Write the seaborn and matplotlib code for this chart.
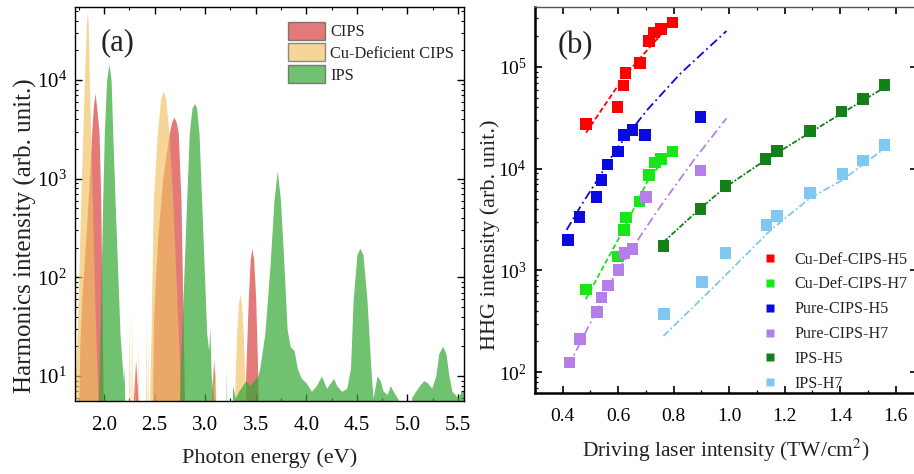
import numpy as np
import pandas as pd
import matplotlib
matplotlib.use("Agg")
import matplotlib.pyplot as plt
import seaborn as sns
from matplotlib.ticker import LogLocator, MultipleLocator, NullFormatter, FormatStrFormatter
from matplotlib.patches import Patch

# ---------------- Panel (a) data: spectra outlines (photon energy eV, intensity) ----------------
cips_spec = [(1.70, 1), (1.74, 1), (1.76, 20), (1.78, 60), (1.82, 250), (1.85, 800), (1.878, 2900),
             (1.895, 5500), (1.911, 7300), (1.93, 5000), (1.951, 2900), (1.968, 600), (1.983, 27),
             (1.995, 3), (2.0, 1),
             (2.27, 1), (2.29, 6), (2.313, 14.5), (2.335, 6), (2.36, 1),
             (2.47, 1), (2.49, 40), (2.53, 250), (2.58, 1000), (2.645, 2900), (2.67, 3800), (2.692, 4200),
             (2.715, 3700), (2.734, 2900), (2.761, 600), (2.784, 27), (2.80, 3), (2.81, 1),
             (3.05, 1), (3.07, 8), (3.085, 15), (3.10, 7), (3.12, 1),
             (3.39, 1), (3.40, 10), (3.426, 59), (3.445, 150), (3.462, 197), (3.48, 150), (3.50, 59),
             (3.52, 10), (3.53, 1), (5.60, 1)]

cudef_spec = [(1.70, 5), (1.736, 27), (1.77, 600), (1.79, 2900), (1.81, 13500), (1.825, 35000),
              (1.835, 50000), (1.845, 35000), (1.852, 13500), (1.868, 2900), (1.885, 600), (1.91, 50),
              (1.935, 8), (1.95, 1),
              (2.238, 1), (2.25, 40), (2.26, 1), (2.262, 1), (2.272, 47), (2.282, 1), (2.296, 1),
              (2.305, 15), (2.314, 1), (2.329, 1), (2.338, 27), (2.348, 1), (2.408, 1), (2.418, 47),
              (2.425, 1), (2.426, 1), (2.432, 35), (2.438, 1),
              (2.44, 1), (2.455, 10), (2.465, 27), (2.487, 600), (2.527, 2900), (2.56, 6500),
              (2.586, 7800), (2.61, 6500), (2.642, 2900), (2.68, 600), (2.72, 60), (2.75, 10), (2.765, 1),
              (3.06, 1), (3.08, 8), (3.10, 12), (3.12, 1),
              (3.29, 1), (3.294, 8.5), (3.311, 27), (3.33, 55), (3.344, 68), (3.36, 55), (3.377, 27),
              (3.393, 8.5), (3.40, 1), (5.60, 1)]

ips_spec = [(1.70, 1), (1.75, 1), (1.755, 7), (1.76, 1), (1.80, 1), (1.805, 6.5), (1.81, 1),
            (1.86, 1), (1.865, 7), (1.87, 1),
            (1.93, 1), (1.945, 6), (1.96, 27), (1.987, 600), (2.003, 2900), (2.025, 10000),
            (2.049, 14500), (2.07, 10000), (2.086, 2900), (2.109, 600), (2.158, 27), (2.19, 9),
            (2.195, 13), (2.205, 6), (2.215, 1),
            (2.42, 1), (2.425, 7), (2.43, 1),
            (2.74, 1), (2.75, 10), (2.768, 27), (2.817, 600), (2.843, 2900), (2.87, 5200),
            (2.895, 5800), (2.915, 5200), (2.939, 2900), (2.965, 600), (3.015, 27), (3.035, 18),
            (3.047, 31), (3.06, 10), (3.08, 6), (3.09, 1),
            (3.20, 1), (3.21, 12), (3.22, 1),
            (3.26, 1), (3.27, 8), (3.30, 6), (3.33, 7), (3.37, 8), (3.40, 9), (3.44, 8), (3.48, 9),
            (3.52, 10), (3.54, 12), (3.59, 27), (3.64, 126), (3.68, 600), (3.713, 1200), (3.745, 600),
            (3.78, 126), (3.81, 30), (3.84, 20), (3.88, 18), (3.91, 12), (3.95, 9.5), (4.00, 8.5),
            (4.05, 7), (4.10, 8), (4.15, 10), (4.20, 7.5), (4.27, 9.5), (4.30, 8), (4.35, 7),
            (4.40, 7.5), (4.437, 12), (4.463, 59), (4.50, 170), (4.53, 197), (4.56, 170), (4.60, 59),
            (4.638, 12), (4.66, 6), (4.70, 10), (4.73, 9), (4.76, 7), (4.80, 6.5), (4.83, 8),
            (4.86, 7), (4.90, 6), (4.92, 5.5), (4.94, 1),
            (5.02, 1), (5.04, 6), (5.08, 7), (5.12, 8), (5.16, 9), (5.20, 8.5), (5.24, 7.5),
            (5.28, 10), (5.31, 17), (5.347, 20), (5.38, 17), (5.41, 10), (5.44, 7), (5.47, 6.5),
            (5.50, 6), (5.53, 7), (5.56, 7), (5.60, 7)]

spec_labels = ["CIPS", "Cu-Deficient CIPS", "IPS"]
spec_colors = ["#d94040", "#f0c060", "#33a833"]
spec_alpha = [0.7, 0.65, 0.7]

# ---------------- Panel (b) data: HHG intensity vs driving intensity ----------------
cu_h5_x = [0.484, 0.597, 0.619, 0.626, 0.679, 0.711, 0.729, 0.753, 0.795]
cu_h5_y = [27400, 40200, 66000, 86700, 110000, 180000, 219000, 238000, 273000]
cu_h7_x = [0.483, 0.599, 0.620, 0.627, 0.677, 0.711, 0.732, 0.753, 0.795]
cu_h7_y = [650, 1365, 2480, 3320, 4740, 8700, 11500, 12400, 14700]
pure_h5_x = [0.420, 0.461, 0.521, 0.540, 0.561, 0.599, 0.621, 0.651, 0.697, 0.897]
pure_h5_y = [1990, 3370, 5240, 7700, 11000, 14700, 21400, 24000, 21400, 32400]
pure_h7_x = [0.424, 0.462, 0.524, 0.539, 0.563, 0.601, 0.622, 0.651, 0.701, 0.897]
pure_h7_y = [124, 211, 390, 543, 708, 1010, 1490, 1620, 5300, 9570]
ips_h5_x = [0.763, 0.897, 0.987, 1.131, 1.171, 1.290, 1.405, 1.482, 1.560]
ips_h5_y = [1740, 4020, 6800, 12400, 15000, 23500, 36400, 48400, 66500]
ips_h7_x = [0.765, 0.901, 0.987, 1.134, 1.171, 1.290, 1.408, 1.482, 1.560]
ips_h7_y = [370, 764, 1490, 2790, 3430, 5730, 8810, 12000, 17000]

# fitted curves
fit_cu_h5_x = [0.484, 0.621, 0.705, 0.795]
fit_cu_h5_y = [22600, 80300, 147000, 279000]
fit_cu_h7_x = [0.483, 0.525, 0.615, 0.705, 0.795]
fit_cu_h7_y = [520, 850, 2400, 7500, 15900]
fit_pure_h5_x = [0.414, 0.465, 0.525, 0.591, 0.705, 0.825, 0.990]
fit_pure_h5_y = [2500, 4300, 7740, 15300, 38000, 86700, 226000]
fit_pure_h7_x = [0.419, 0.585, 0.681, 0.765, 0.873, 0.990]
fit_pure_h7_y = [113, 870, 2200, 4800, 12200, 31300]
fit_ips_h5_x = [0.763, 0.897, 0.987, 1.131, 1.290, 1.405, 1.560]
fit_ips_h5_y = [1900, 4100, 6600, 12200, 22500, 35000, 63000]
fit_ips_h7_x = [0.763, 0.945, 1.150, 1.290, 1.408, 1.560]
fit_ips_h7_y = [226, 690, 2500, 5100, 7740, 15900]

series_names = ["Cu-Def-CIPS-H5", "Cu-Def-CIPS-H7", "Pure-CIPS-H5", "Pure-CIPS-H7", "IPS-H5", "IPS-H7"]
series_colors = ["#ff0000", "#19e619", "#0a0ae0", "#b57ee8", "#13801a", "#7ec8f2"]
fit_styles = [(0, (3, 1.5)), (0, (3, 1.5)), (0, (5, 2, 1, 2)), (0, (5, 2, 1, 2)),
              (0, (3, 1, 1, 1)), (0, (4, 1.5, 1, 1.5))]

# ---------------- style ----------------
sns.set_theme(style="ticks")
plt.rcParams["font.family"] = ["Liberation Serif", "DejaVu Serif"]
plt.rcParams["mathtext.fontset"] = "stix"
plt.rcParams["xtick.direction"] = "in"
plt.rcParams["ytick.direction"] = "in"
plt.rcParams["xtick.top"] = True
plt.rcParams["ytick.right"] = True
plt.rcParams["axes.edgecolor"] = "black"
plt.rcParams["xtick.color"] = "black"
plt.rcParams["ytick.color"] = "black"
plt.rcParams["text.color"] = "#222222"
plt.rcParams["axes.labelcolor"] = "#222222"

W, H = 914, 474
fig = plt.figure(figsize=(W / 100, H / 100), dpi=100)
axA = fig.add_axes([75 / W, (H - 401) / H, 389 / W, 394 / H])
axB = fig.add_axes([535 / W, (H - 393) / H, 382 / W, 386 / H])

# ---------------- Panel (a) ----------------
handles = []
for spec, lab, col, al in zip([cips_spec, cudef_spec, ips_spec], spec_labels, spec_colors, spec_alpha):
    df = pd.DataFrame(spec, columns=["E", "I"])
    axA.fill_between(df["E"], 1, df["I"], color=col, alpha=al, lw=0)
    handles.append(Patch(facecolor=col, alpha=al, edgecolor="#555555", lw=1.0, label=lab))

axA.set_yscale("log")
axA.set_xlim(1.713, 5.559)
axA.set_ylim(5.58, 54900)
axA.xaxis.set_major_locator(MultipleLocator(0.5))
axA.xaxis.set_minor_locator(MultipleLocator(0.25))
axA.xaxis.set_major_formatter(FormatStrFormatter("%.1f"))
axA.yaxis.set_major_locator(LogLocator(base=10, numticks=10))
axA.yaxis.set_minor_locator(LogLocator(base=10, subs=np.arange(2, 10), numticks=20))
axA.yaxis.set_minor_formatter(NullFormatter())
axA.tick_params(which="major", length=5, width=1.0, labelsize=15)
axA.tick_params(axis="x", which="major", pad=11)
axA.tick_params(axis="y", which="major", pad=6)
axA.tick_params(which="minor", length=2.5, width=0.8)
axA.set_xlabel("Photon energy (eV)", fontsize=16, labelpad=9)
axA.set_ylabel("Harmonics intensity (arb. unit.)", fontsize=18)
axA.yaxis.set_label_coords(-0.098, 0.42)
for s in axA.spines.values():
    s.set_linewidth(1.0)
axA.text(0.065, 0.91, "(a)", transform=axA.transAxes, fontsize=22, ha="left", va="center")
axA.legend(handles=handles, loc="upper left", bbox_to_anchor=(0.509, 1.0), frameon=False,
           fontsize=11.8, handlelength=2.25, handleheight=1.3, handletextpad=0.35,
           labelspacing=0.2, borderaxespad=0.5)

# ---------------- Panel (b) ----------------
xs = [cu_h5_x, cu_h7_x, pure_h5_x, pure_h7_x, ips_h5_x, ips_h7_x]
ys = [cu_h5_y, cu_h7_y, pure_h5_y, pure_h7_y, ips_h5_y, ips_h7_y]
fxs = [fit_cu_h5_x, fit_cu_h7_x, fit_pure_h5_x, fit_pure_h7_x, fit_ips_h5_x, fit_ips_h7_x]
fys = [fit_cu_h5_y, fit_cu_h7_y, fit_pure_h5_y, fit_pure_h7_y, fit_ips_h5_y, fit_ips_h7_y]

pts = pd.concat([pd.DataFrame({"I": x, "HHG": y, "series": n}) for x, y, n in zip(xs, ys, series_names)],
                ignore_index=True)
palette = dict(zip(series_names, series_colors))

for fx, fy, col, ls in zip(fxs, fys, series_colors, fit_styles):
    sns.lineplot(x=fx, y=fy, ax=axB, color=col, lw=1.3, linestyle=ls, sort=False, legend=False)

sns.scatterplot(data=pts, x="I", y="HHG", hue="series", hue_order=series_names, palette=palette,
                marker="s", s=70, edgecolor="none", ax=axB, zorder=3)

axB.set_yscale("log")
axB.set_xlim(0.3, 1.6766)
axB.set_ylim(62.2, 389000)
axB.xaxis.set_major_locator(MultipleLocator(0.2))
axB.xaxis.set_minor_locator(MultipleLocator(0.1))
axB.xaxis.set_major_formatter(FormatStrFormatter("%.1f"))
axB.yaxis.set_major_locator(LogLocator(base=10, numticks=10))
axB.yaxis.set_minor_locator(LogLocator(base=10, subs=np.arange(2, 10), numticks=20))
axB.yaxis.set_minor_formatter(NullFormatter())
axB.tick_params(which="major", length=5, width=1.2, labelsize=14)
axB.tick_params(axis="x", which="major", pad=11)
axB.tick_params(axis="y", which="major", pad=6)
axB.tick_params(which="minor", length=2.5, width=0.9)
axB.set_xlabel("Driving laser intensity (TW/cm$^2$)", fontsize=15.5, labelpad=8)
axB.set_ylabel("HHG intensity (arb. unit.)", fontsize=16)
axB.yaxis.set_label_coords(-0.092, 0.41)
axB.spines["left"].set_linewidth(1.8)
axB.spines["bottom"].set_linewidth(1.8)
axB.spines["top"].set_linewidth(1.0)
axB.spines["top"].set_color("#555555")
axB.spines["right"].set_linewidth(1.0)
axB.text(0.06, 0.9, "(b)", transform=axB.transAxes, fontsize=22, ha="left", va="center")
leg = axB.legend(loc="upper left", bbox_to_anchor=(0.557, 0.383), frameon=False, fontsize=11.6,
                 handletextpad=0.5, labelspacing=0.55, borderaxespad=0.0, markerscale=0.75)

fig.savefig("out.png", dpi=100)
